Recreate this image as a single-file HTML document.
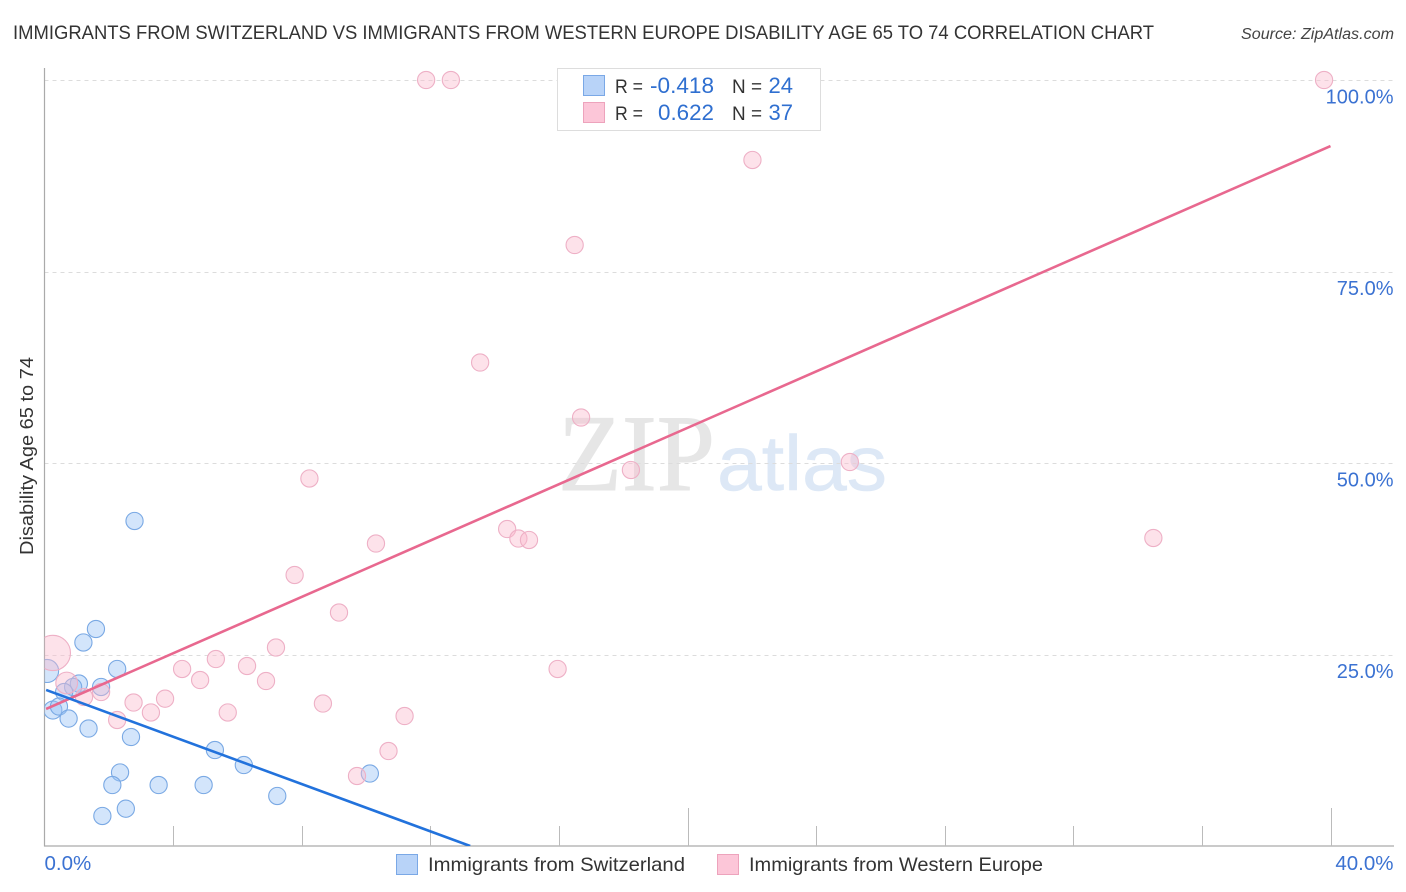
<!DOCTYPE html>
<html lang="en">
<head>
<meta charset="utf-8">
<title>Disability Age 65 to 74 Correlation Chart</title>
<style>
html,body{margin:0;padding:0;background:#fff;width:1406px;height:892px;overflow:hidden}
svg{display:block;font-family:"Liberation Sans",sans-serif}
</style>
</head>
<body>
<svg id="chart" width="1406" height="892" viewBox="0 0 1406 892" xmlns="http://www.w3.org/2000/svg">
  <defs><clipPath id="plot-clip"><rect x="44.5" y="60" width="1350" height="786"></rect></clipPath></defs>
  <text x="13" y="39" font-size="19.5" fill="#333" textLength="1141" lengthAdjust="spacingAndGlyphs">IMMIGRANTS FROM SWITZERLAND VS IMMIGRANTS FROM WESTERN EUROPE DISABILITY AGE 65 TO 74 CORRELATION CHART</text>
  <text x="1241" y="39" font-size="15.5" font-style="italic" fill="#444" textLength="153" lengthAdjust="spacingAndGlyphs">Source: ZipAtlas.com</text>
  <text x="558" y="490" font-family="'Liberation Serif',serif" font-size="109" fill="#e6e6e6" stroke="#e6e6e6" stroke-width="1" textLength="157" lengthAdjust="spacingAndGlyphs">ZIP</text>
  <text x="717" y="490" font-size="78" fill="#dde8f6" stroke="#dde8f6" stroke-width="0.6" textLength="170" lengthAdjust="spacingAndGlyphs">atlas</text>
  <g id="grid"></g>
  <g id="axes"></g>
  <g id="blue-points" clip-path="url(#plot-clip)"></g>
  <g id="pink-points" clip-path="url(#plot-clip)"></g>
  <g id="trends" clip-path="url(#plot-clip)"></g>
  <g id="labels"></g>
  <text transform="translate(33,456) rotate(-90)" text-anchor="middle" font-size="18.5" fill="#333" textLength="198" lengthAdjust="spacingAndGlyphs">Disability Age 65 to 74</text>

  <g>
    <rect x="557.5" y="68.5" width="263" height="62" fill="#fff" stroke="#ddd" stroke-width="1"></rect>
    <rect x="583.5" y="75.5" width="21" height="20" fill="#b8d3f8" stroke="#7aa8e6"></rect>
    <rect x="583.5" y="102.5" width="21" height="20" fill="#fcc6d8" stroke="#eda3bc"></rect>
    <text x="615" y="93" font-size="19.5" fill="#333" textLength="28" lengthAdjust="spacingAndGlyphs">R =</text>
    <text x="650" y="93" font-size="22" fill="#2f6fd0" textLength="64" lengthAdjust="spacingAndGlyphs">-0.418</text>
    <text x="732" y="93" font-size="19.5" fill="#333" textLength="30" lengthAdjust="spacingAndGlyphs">N =</text>
    <text x="793" y="93" font-size="22" fill="#2f6fd0" text-anchor="end">24</text>
    <text x="615" y="120" font-size="19.5" fill="#333" textLength="28" lengthAdjust="spacingAndGlyphs">R =</text>
    <text x="658" y="120" font-size="22" fill="#2f6fd0" textLength="56" lengthAdjust="spacingAndGlyphs">0.622</text>
    <text x="732" y="120" font-size="19.5" fill="#333" textLength="30" lengthAdjust="spacingAndGlyphs">N =</text>
    <text x="793" y="120" font-size="22" fill="#2f6fd0" text-anchor="end">37</text>
  </g>

  <g>
    <rect x="396.5" y="854.5" width="21" height="20" fill="#b8d3f8" stroke="#7aa8e6"></rect>
    <text x="428" y="871" font-size="19.5" fill="#333" textLength="257" lengthAdjust="spacingAndGlyphs">Immigrants from Switzerland</text>
    <rect x="717.5" y="854.5" width="21" height="20" fill="#fcc6d8" stroke="#eda3bc"></rect>
    <text x="749" y="871" font-size="19.5" fill="#333" textLength="294" lengthAdjust="spacingAndGlyphs">Immigrants from Western Europe</text>
  </g>
</svg>
<script>
var blueX = [2.80,1.60,1.21,2.26,0.08,1.76,1.07,0.89,0.61,0.26,0.45,0.75,1.37,2.69,5.30,6.20,2.35,2.11,3.55,4.95,7.24,1.80,2.53,10.12];
var blueY = [42.43,28.33,26.57,23.11,22.85,20.76,21.21,20.76,20.10,17.75,18.21,16.64,15.34,14.23,12.53,10.57,9.60,7.96,7.96,7.96,6.53,3.92,4.87,9.46];
var blueWeight = [1,1,1,1,1.8,1,1,1,1,1.1,1,1,1,1,1,1,1,1,1,1,1,1,1,1];
var pinkX = [0.26,0.69,1.23,1.76,4.28,5.33,6.30,7.20,4.84,6.89,2.77,3.75,3.31,5.70,2.26,8.66,11.20,10.70,9.72,9.16,7.78,10.31,8.24,14.39,14.74,15.07,15.96,18.24,16.69,13.55,16.49,22.02,25.05,34.49,39.80,11.87,12.64];
var pinkY = [25.20,21.28,19.45,20.10,23.11,24.41,23.50,25.91,21.67,21.54,18.73,19.23,17.43,17.43,16.45,18.60,16.97,12.40,9.14,30.48,35.38,39.49,47.98,41.38,40.14,39.95,23.11,49.09,55.94,63.12,78.46,89.56,50.13,40.21,100,100,100];
var pinkWeight = [4.2,1.6,1,1,1,1,1,1,1,1,1,1,1,1,1,1,1,1,1,1,1,1,1,1,1,1,1,1,1,1,1,1,1,1,1,1,1];
var blueTrendX = [0.05,13.24];
var blueTrendY = [20.37,0];
var pinkTrendX = [0.05,40];
var pinkTrendY = [17.89,91.38];
var yTicks = [25,50,75,100];
var yTickLabels = ['25.0%','50.0%','75.0%','100.0%'];
var xTicks = [4,8,12,16,20,24,28,32,36,40];
var xMajorTicks = [20,40];
var xEndValues = [0,40];
var xEndLabels = ['0.0%','40.0%'];

var NS = 'http://www.w3.org/2000/svg';
function sx(v){ return 44.5 + v * 32.15; }
function sy(v){ return 846 - v * 7.66; }
function mk(parent, tag){
  var el = document.createElementNS(NS, tag);
  document.getElementById(parent).appendChild(el);
  return el;
}
function line(el, x1, y1, x2, y2, color, width){
  el.setAttribute('x1', x1);
  el.setAttribute('y1', y1);
  el.setAttribute('x2', x2);
  el.setAttribute('y2', y2);
  el.setAttribute('stroke', color);
  el.setAttribute('stroke-width', width);
}

yTicks.forEach(function(v, i){
  var g = mk('grid', 'line');
  
  
  line(g, 44.5, Math.round(sy(v)) + 0.5, 1393, Math.round(sy(v)) + 0.5, '#dcdcdc', 1);
  g.setAttribute('stroke-dasharray', '4 4');
  var t = mk('labels', 'text');
  
  
  t.setAttribute('x', 1393.5);
  t.setAttribute('y', sy(v) + 23.5);
  t.setAttribute('text-anchor', 'end');
  t.setAttribute('font-size', '20');
  t.setAttribute('fill', '#3b72d2');
  t.textContent = yTickLabels[i];
});

var yAxis = mk('axes', 'line');


line(yAxis, 44.5, 68, 44.5, 846.5, '#aaaaaa', 1.2);
var xAxis = mk('axes', 'line');


line(xAxis, 44, 846, 1394, 846, '#aaaaaa', 1.2);
xTicks.forEach(function(v){
  var tick = mk('axes', 'line');
  
  
  var top = xMajorTicks.indexOf(v) >= 0 ? 808 : 826;
  line(tick, Math.round(sx(v)) + 0.5, top, Math.round(sx(v)) + 0.5, 846, '#bbbbbb', 1);
});
xEndValues.forEach(function(v, i){
  var t = mk('labels', 'text');
  
  
  t.setAttribute('x', i === 0 ? sx(v) : 1393.5);
  t.setAttribute('y', 870);
  t.setAttribute('text-anchor', i === 0 ? 'start' : 'end');
  t.setAttribute('font-size', '20.5');
  t.setAttribute('fill', '#3b72d2');
  t.textContent = xEndLabels[i];
});

blueX.forEach(function(v, i){
  var c = mk('blue-points', 'circle');
  
  
  c.setAttribute('cx', sx(v));
  c.setAttribute('cy', sy(blueY[i]));
  c.setAttribute('r', 8.6 * Math.sqrt(blueWeight[i]));
  c.setAttribute('fill', 'rgba(150,192,245,0.42)');
  c.setAttribute('stroke', '#7aa9e4');
  c.setAttribute('stroke-width', 1.1);
});
pinkX.forEach(function(v, i){
  var c = mk('pink-points', 'circle');
  
  
  c.setAttribute('cx', sx(v));
  c.setAttribute('cy', sy(pinkY[i]));
  c.setAttribute('r', 8.6 * Math.sqrt(pinkWeight[i]));
  c.setAttribute('fill', 'rgba(250,185,205,0.42)');
  c.setAttribute('stroke', '#eeb0c6');
  c.setAttribute('stroke-width', 1.1);
});

var pinkTrend = mk('trends', 'line');


line(pinkTrend, sx(pinkTrendX[0]), sy(pinkTrendY[0]), sx(pinkTrendX[1]), sy(pinkTrendY[1]), '#e8688f', 2.6);
var blueTrend = mk('trends', 'line');


line(blueTrend, sx(blueTrendX[0]), sy(blueTrendY[0]), sx(blueTrendX[1]), sy(blueTrendY[1]), '#2272dc', 2.6);
</script>
</body>
</html>
